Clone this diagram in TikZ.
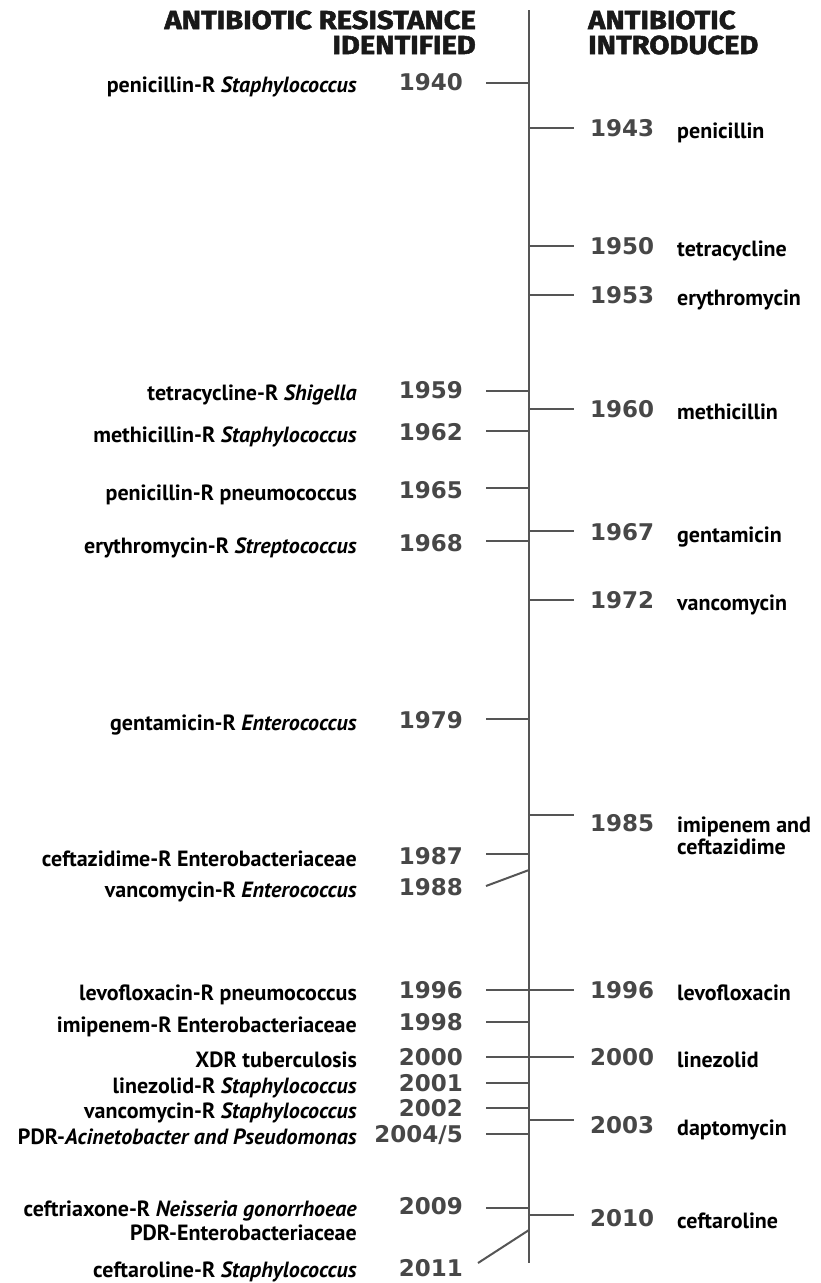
\documentclass[tikz,border=0pt]{standalone}
\usepackage{fontspec}
\setmainfont{PT Sans}
\newfontfamily\yearfont{DejaVu Sans}
\newfontfamily\headfont{Fira Sans}[FakeBold=2,FakeStretch=1.12]
\definecolor{linegray}{HTML}{555555}
\definecolor{yeargray}{HTML}{474747}
\tikzset{
  axisline/.style={draw=linegray,line width=2pt},
  tickline/.style={draw=linegray,line width=2pt},
  thintick/.style={draw=linegray,line width=1.2pt},
  lyear/.style={anchor=base east,inner sep=0pt,font=\yearfont\bfseries\fontsize{23}{26}\selectfont,text=yeargray},
  ryear/.style={anchor=base west,inner sep=0pt,font=\yearfont\bfseries\fontsize{23}{26}\selectfont,text=yeargray},
  llabel/.style={anchor=base east,inner sep=0pt,font=\bfseries\fontsize{22}{24}\selectfont},
  rlabel/.style={anchor=base west,inner sep=0pt,font=\bfseries\fontsize{22}{24}\selectfont},
  header/.style={inner sep=0pt,font=\headfont\bfseries\fontsize{26}{27}\selectfont,text=black!90}
}
\begin{document}
\begin{tikzpicture}[x=1pt,y=-1pt]
\useasboundingbox (0,0) rectangle (820,1283);
% headers
\node[header,anchor=base east] (hl1) at (476,29) {ANTIBIOTIC RESISTANCE};
\node[header,anchor=base east] (hl2) at (476,54) {IDENTIFIED};
\node[header,anchor=base west] (hr1) at (588,29) {ANTIBIOTIC};
\node[header,anchor=base west] (hr2) at (588,54) {INTRODUCED};
% axis
\coordinate (top) at (529,10);
\coordinate (bot) at (529,1263);
\draw[axisline] (top) -- (bot);
% ---------- left side ----------
\foreach \n/\y in {l40/83,l59/391,l62/431,l65/488,l68/541,l79/719,l87/854,l96/990,l98/1022,l00/1057,l01/1083,l02/1108,l05/1134,l09/1208}{
  \coordinate (\n a) at (529,\y);
  \coordinate (\n t) at (486,\y);
  \draw[tickline] (\n t) -- (\n a);
}
\coordinate (l88a) at (529,870);
\coordinate (l88t) at (486,886);
\draw[tickline] (l88t) -- (l88a);
\coordinate (l11a) at (529,1230);
\coordinate (l11t) at (478,1263);
\draw[tickline] (l11t) -- (l11a);

\node[lyear] (y40) at (463,90.5) {1940};
\node[lyear] (y59) at (463,398.5) {1959};
\node[lyear] (y62) at (463,440.5) {1962};
\node[lyear] (y65) at (463,498.5) {1965};
\node[lyear] (y68) at (463,551.5) {1968};
\node[lyear] (y79) at (463,728.5) {1979};
\node[lyear] (y87) at (463,864.5) {1987};
\node[lyear] (y88) at (463,895.5) {1988};
\node[lyear] (y96) at (463,998.5) {1996};
\node[lyear] (y98) at (463,1030.5) {1998};
\node[lyear] (y00) at (463,1065.5) {2000};
\node[lyear] (y01) at (463,1091.5) {2001};
\node[lyear] (y02) at (463,1116.5) {2002};
\node[lyear] (y05) at (463,1142.5) {2004/5};
\node[lyear] (y09) at (463,1214.5) {2009};
\node[lyear] (y11) at (463,1276.5) {2011};

\node[llabel] (n40) at (357,92) {penicillin-R \textit{Staphylococcus}};
\node[llabel] (n59) at (357,400) {tetracycline-R \textit{Shigella}};
\node[llabel] (n62) at (357,442) {methicillin-R \textit{Staphylococcus}};
\node[llabel] (n65) at (357,500) {penicillin-R pneumococcus};
\node[llabel] (n68) at (357,553) {erythromycin-R \textit{Streptococcus}};
\node[llabel] (n79) at (357,730) {gentamicin-R \textit{Enterococcus}};
\node[llabel] (n87) at (357,866) {ceftazidime-R Enterobacteriaceae};
\node[llabel] (n88) at (357,897) {vancomycin-R \textit{Enterococcus}};
\node[llabel] (n96) at (357,1000) {levofloxacin-R pneumococcus};
\node[llabel] (n98) at (357,1032) {imipenem-R Enterobacteriaceae};
\node[llabel] (n00) at (357,1067) {XDR tuberculosis};
\node[llabel] (n01) at (357,1093) {linezolid-R \textit{Staphylococcus}};
\node[llabel] (n02) at (357,1118) {vancomycin-R \textit{Staphylococcus}};
\node[llabel] (n05) at (357,1144) {PDR-\textit{Acinetobacter and Pseudomonas}};
\node[llabel] (n09) at (357,1216) {ceftriaxone-R \textit{Neisseria gonorrhoeae}};
\node[llabel] (n09b) at (357,1240) {PDR-Enterobacteriaceae};
\node[llabel] (n11) at (357,1277) {ceftaroline-R \textit{Staphylococcus}};
% ---------- right side ----------
\foreach \n/\y in {r43/128,r50/246,r53/295,r67/531,r72/600,r85/815,r96/990,r00/1057,r03/1120,r10/1215}{
  \coordinate (\n a) at (529,\y);
  \coordinate (\n t) at (574,\y);
  \draw[tickline] (\n a) -- (\n t);
}
\coordinate (r60a) at (529,409);
\coordinate (r60t) at (574,409);
\draw[thintick] (r60a) -- (r60t);

\node[ryear] (z43) at (590,136.5) {1943};
\node[ryear] (z50) at (590,254.5) {1950};
\node[ryear] (z53) at (590,303.5) {1953};
\node[ryear] (z60) at (590,417.5) {1960};
\node[ryear] (z67) at (590,540.5) {1967};
\node[ryear] (z72) at (590,608.5) {1972};
\node[ryear] (z85) at (590,831.5) {1985};
\node[ryear] (z96) at (590,998.5) {1996};
\node[ryear] (z00) at (590,1065.5) {2000};
\node[ryear] (z03) at (590,1133.5) {2003};
\node[ryear] (z10) at (590,1226.5) {2010};

\node[rlabel] (m43) at (677,138) {penicillin};
\node[rlabel] (m50) at (677,256) {tetracycline};
\node[rlabel] (m53) at (677,305) {erythromycin};
\node[rlabel] (m60) at (677,419) {methicillin};
\node[rlabel] (m67) at (677,542) {gentamicin};
\node[rlabel] (m72) at (677,610) {vancomycin};
\node[rlabel] (m85) at (677,832) {imipenem and};
\node[rlabel] (m85b) at (677,854) {ceftazidime};
\node[rlabel] (m96) at (677,1000) {levofloxacin};
\node[rlabel] (m00) at (677,1067) {linezolid};
\node[rlabel] (m03) at (677,1135) {daptomycin};
\node[rlabel] (m10) at (677,1228) {ceftaroline};
\end{tikzpicture}
\end{document}
